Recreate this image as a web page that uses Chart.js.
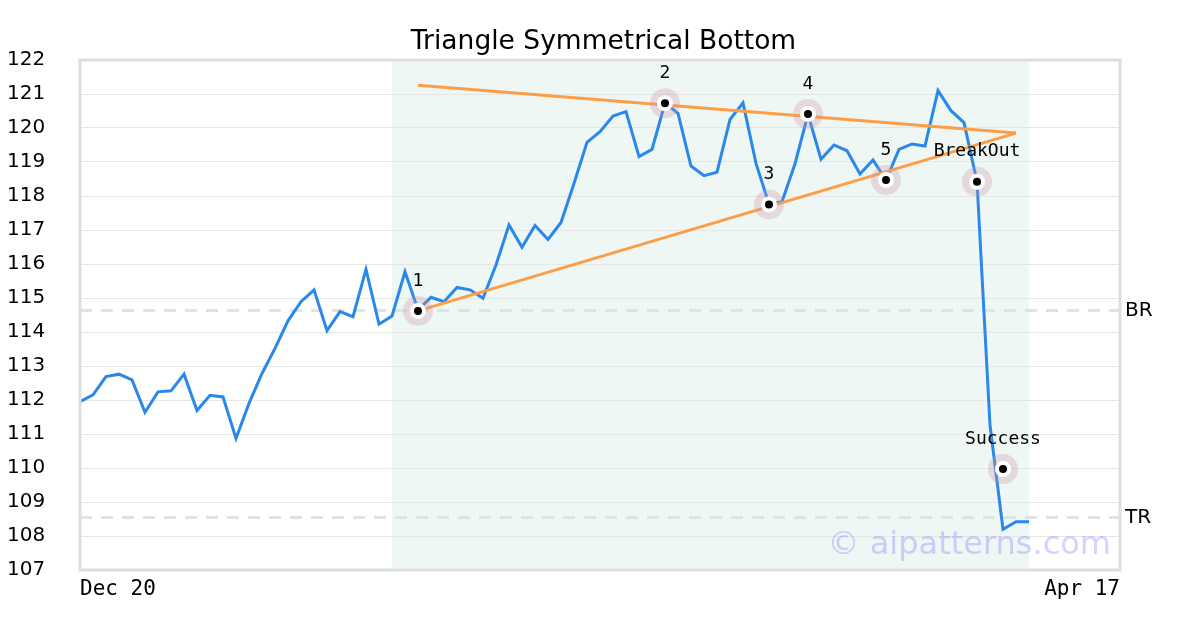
<!DOCTYPE html>
<html>
<head>
    <title>Triangle Symmetrical Bottom</title>
    <script src="https://cdn.jsdelivr.net/npm/chart.js@4/dist/chart.umd.min.js"></script>
    <style>
        html, body { margin: 0; padding: 0; background: #fff; }
        .chart-box { width: 1200px; height: 630px; }
    </style>
</head>
<body>
    <div class="chart-box">
        <canvas id="patternChart"></canvas>
    </div>

    <script>
        // closing prices, one per trading day from Dec 20
        const prices = [
            111.95, 112.15, 112.69, 112.76, 112.59, 111.64, 112.24, 112.27, 112.76, 111.69,
            112.14, 112.09, 110.87, 111.90, 112.78, 113.52, 114.33, 114.89, 115.24, 114.04,
            114.60, 114.45, 115.84, 114.23, 114.47, 115.77, 114.65, 115.02, 114.89, 115.31,
            115.24, 114.99, 115.97, 117.15, 116.49, 117.13, 116.72, 117.22, 118.37, 119.58,
            119.89, 120.35, 120.48, 119.16, 119.37, 120.73, 120.43, 118.88, 118.60, 118.70,
            120.25, 120.74, 118.96, 117.76, 117.83, 118.95, 120.40, 119.08, 119.50, 119.33,
            118.65, 119.06, 118.47, 119.37, 119.53, 119.47, 121.10, 120.51, 120.16, 118.42,
            111.26, 108.20, 108.42, 108.42
        ];

        // pattern points
        const markerIdx = [26, 45, 53, 56, 62, 69, 71];
        const markerVals = [114.62, 120.73, 117.75, 120.41, 118.47, 118.42, 109.97];
        const markerLabels = ['1', '2', '3', '4', '5', 'BreakOut', 'Success'];

        // trend lines (start / end)
        const trendIdx = [26, 72];
        const upperTrend = [121.26, 119.85];
        const lowerTrend = [114.62, 119.85];

        // breakout / target levels
        const levelVals = [114.62, 108.53];
        const levelLabels = ['BR', 'TR'];

        // pattern window (shaded)
        const shadeRange = [24, 73];

        // x axis
        const xTickPos = [0, 80];
        const xTickLabels = ['Dec 20', 'Apr 17'];

        const toPoints = (xs, ys) => ys.map((v, i) => ({ x: xs[i], y: v }));

        const shadePlugin = {
            id: 'shade',
            beforeDraw(chart) {
                const { ctx, chartArea, scales } = chart;
                const x1 = scales.x.getPixelForValue(shadeRange[0]);
                const x2 = scales.x.getPixelForValue(shadeRange[1]);
                ctx.save();
                ctx.fillStyle = '#eff7f4';
                ctx.fillRect(x1, chartArea.top, x2 - x1, chartArea.bottom - chartArea.top);
                ctx.restore();
            },
            beforeDatasetsDraw(chart) {
                const { ctx, chartArea } = chart;
                ctx.save();
                ctx.font = '32px "DejaVu Sans"';
                ctx.fillStyle = 'rgba(120, 120, 255, 0.33)';
                ctx.textAlign = 'right';
                ctx.textBaseline = 'alphabetic';
                ctx.fillText('\u00a9 aipatterns.com', chartArea.right - 9, chartArea.bottom - 16);
                ctx.restore();
            },
            afterDatasetsDraw(chart) {
                const { ctx, scales } = chart;
                ctx.save();
                ctx.font = '18px "DejaVu Sans Mono"';
                ctx.fillStyle = '#000';
                ctx.textAlign = 'center';
                ctx.textBaseline = 'middle';
                markerLabels.forEach((txt, i) => {
                    const px = scales.x.getPixelForValue(markerIdx[i]);
                    const py = scales.y.getPixelForValue(markerVals[i]);
                    ctx.fillText(txt, px, py - 30);
                });
                ctx.restore();
            },
            afterDraw(chart) {
                const { ctx, chartArea } = chart;
                ctx.save();
                ctx.strokeStyle = '#dedede';
                ctx.lineWidth = 3;
                ctx.strokeRect(chartArea.left, chartArea.top,
                    chartArea.right - chartArea.left, chartArea.bottom - chartArea.top);
                ctx.restore();
            }
        };

        new Chart(document.getElementById('patternChart'), {
            type: 'line',
            data: {
                datasets: [
                    {
                        data: toPoints(markerIdx, markerVals),
                        showLine: false,
                        pointRadius: 6,
                        pointBackgroundColor: '#000',
                        pointBorderColor: '#fff',
                        pointBorderWidth: 4
                    },
                    {
                        data: toPoints(markerIdx, markerVals),
                        showLine: false,
                        pointRadius: 15,
                        pointBackgroundColor: 'rgba(200, 150, 165, 0.3)',
                        pointBorderWidth: 0
                    },
                    {
                        data: toPoints(trendIdx, upperTrend),
                        borderColor: '#ff9d45',
                        borderWidth: 3,
                        pointRadius: 0
                    },
                    {
                        data: toPoints(trendIdx, lowerTrend),
                        borderColor: '#ff9d45',
                        borderWidth: 3,
                        pointRadius: 0
                    },
                    {
                        data: prices.map((v, i) => ({ x: i, y: v })),
                        borderColor: '#2a88ea',
                        borderWidth: 3,
                        pointRadius: 0,
                        tension: 0
                    }
                ]
            },
            options: {
                responsive: true,
                maintainAspectRatio: false,
                animation: false,
                layout: { padding: { left: 7, right: 0, top: 0, bottom: 0 } },
                plugins: {
                    legend: { display: false },
                    tooltip: { enabled: false },
                    title: {
                        display: true,
                        text: 'Triangle Symmetrical Bottom',
                        color: '#000',
                        font: { family: 'DejaVu Sans', size: 26.5, weight: 'normal' },
                        padding: { top: 26, bottom: 2.2 }
                    }
                },
                scales: {
                    x: {
                        type: 'linear',
                        min: xTickPos[0],
                        max: xTickPos[1],
                        afterBuildTicks: a => { a.ticks = xTickPos.map(v => ({ value: v })); },
                        afterFit: a => { a.height = 60; },
                        grid: { display: false, drawTicks: false },
                        border: { display: false },
                        ticks: {
                            callback: (v, i) => xTickLabels[i],
                            align: 'inner',
                            maxRotation: 0,
                            autoSkip: false,
                            padding: 7,
                            color: '#000',
                            font: { family: 'DejaVu Sans Mono', size: 21 }
                        }
                    },
                    y: {
                        position: 'left',
                        min: 107,
                        max: 122,
                        afterFit: a => { a.width = 73; },
                        grid: { color: '#e6e6e6', lineWidth: 1, drawTicks: false },
                        border: { display: false },
                        ticks: {
                            stepSize: 1,
                            crossAlign: 'far',
                            color: '#000',
                            font: { family: 'DejaVu Sans', size: 20 }
                        }
                    },
                    y2: {
                        position: 'right',
                        min: 107,
                        max: 122,
                        afterBuildTicks: a => { a.ticks = levelVals.map(v => ({ value: v })); },
                        afterFit: a => { a.width = 80; },
                        grid: { color: '#e2e2e2', lineWidth: 3, drawTicks: false },
                        border: { display: false, dash: [12, 9] },
                        ticks: {
                            callback: (v, i) => levelLabels[i],
                            autoSkip: false,
                            padding: 5,
                            color: '#000',
                            font: { family: 'DejaVu Sans', size: 20 }
                        }
                    }
                }
            },
            plugins: [shadePlugin]
        });
    </script>
</body>
</html>
